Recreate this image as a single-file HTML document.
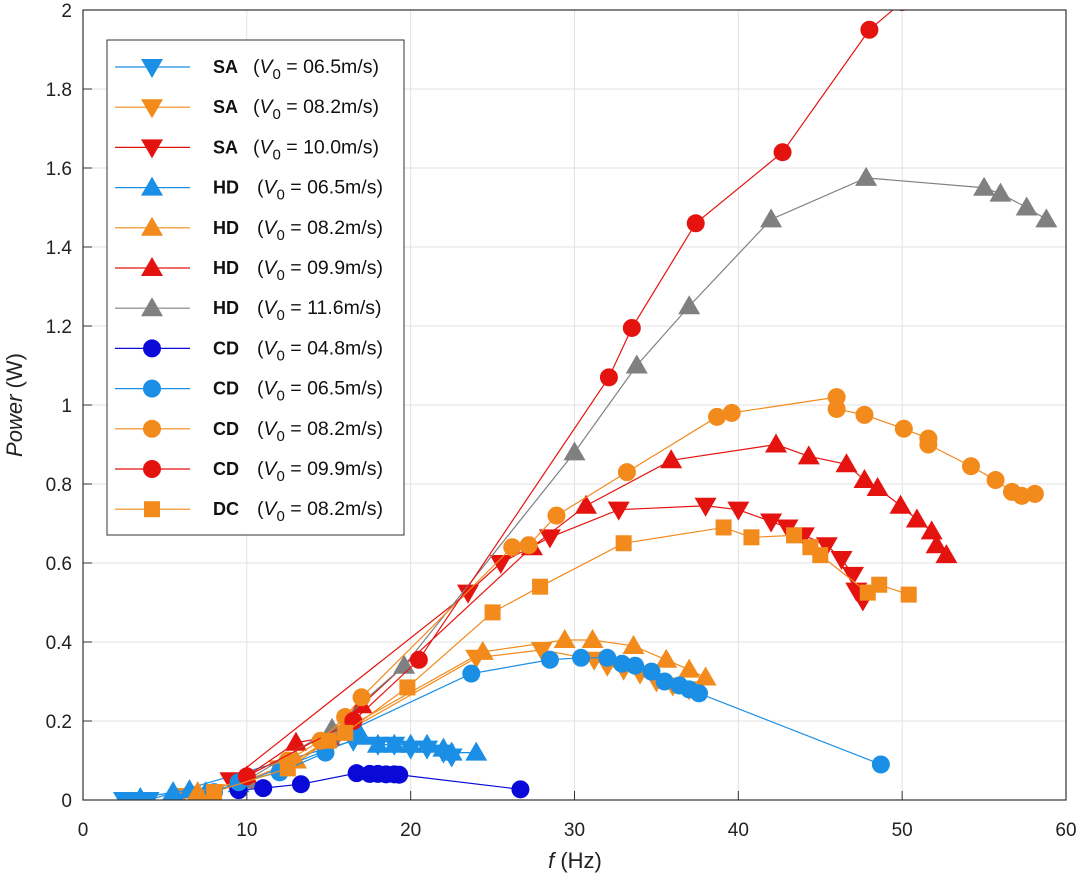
<!DOCTYPE html>
<html><head><meta charset="utf-8"><style>
body{margin:0;background:#fff;font-family:"Liberation Sans",Arial,sans-serif}
svg text{font-family:"Liberation Sans",Arial,sans-serif}
</style></head><body>
<svg id="chart" width="1080" height="878" viewBox="0 0 1080 878" xmlns="http://www.w3.org/2000/svg">
<g id="grid"></g>
<g id="series"></g>
<rect x="83" y="10" width="983" height="790" fill="none" stroke="#333" stroke-width="1.2"/>
<g id="ticks"></g>
<g id="legend"></g>
<text transform="translate(22,405) rotate(-90)" text-anchor="middle" font-size="22" fill="#222"><tspan font-style="italic">Power</tspan> (W)</text>
<text x="575" y="868" text-anchor="middle" font-size="22" fill="#222"><tspan font-style="italic">f</tspan> (Hz)</text>
</svg>
<script>
const xTicks=[0,10,20,30,40,50,60];
const yTicks=[0,0.2,0.4,0.6,0.8,1,1.2,1.4,1.6,1.8,2];
const yTickLabels=["0","0.2","0.4","0.6","0.8","1","1.2","1.4","1.6","1.8","2"];
const seriesNames=["SA","SA","SA","HD","HD","HD","HD","CD","CD","CD","CD","DC"];
const seriesSpeeds=["06.5","08.2","10.0","06.5","08.2","09.9","11.6","04.8","06.5","08.2","09.9","08.2"];
const seriesMarkers=["down","down","down","up","up","up","up","circle","circle","circle","circle","square"];
const seriesColors=["#1b8fe6","#f28a1c","#e5130f","#1b8fe6","#f28a1c","#e5130f","#808080","#0a0ad8","#1b8fe6","#f28a1c","#e5130f","#f28a1c"];
const saX65=[2.5,3,3.5,4,16.5,18,19,20,21,22,22.5];
const saY65=[0.0,-0.005,0.0,0.0,0.15,0.14,0.14,0.13,0.13,0.12,0.11];
const saX82=[6,8,12,15.5,24,28,31.2,32,33,34,35,36,37];
const saY82=[0.01,0.02,0.08,0.16,0.36,0.38,0.355,0.34,0.33,0.32,0.3,0.29,0.28];
const saX10=[9,23.5,25.5,28.5,32.7,38,40,42,43,44,45.4,46.3,47,47.2,47.6];
const saY10=[0.05,0.525,0.6,0.665,0.735,0.745,0.735,0.705,0.69,0.67,0.645,0.61,0.57,0.53,0.505];
const hdX65=[3.5,5.5,6.5,7.5,9.5,17,18,19,20,21,22,22.5,24];
const hdY65=[0.005,0.02,0.025,0.02,0.04,0.16,0.14,0.14,0.14,0.14,0.13,0.12,0.12];
const hdX82=[7,10,13,16,24.4,29.4,31.1,33.6,35.6,37,38];
const hdY82=[0.02,0.05,0.1,0.18,0.375,0.405,0.405,0.39,0.355,0.33,0.31];
const hdX99=[10,13,15,17,27.4,30.7,35.9,42.3,44.3,46.6,47.7,48.5,49.9,50.9,51.8,52.1,52.7];
const hdY99=[0.06,0.145,0.16,0.24,0.64,0.745,0.86,0.9,0.87,0.85,0.81,0.79,0.745,0.71,0.68,0.645,0.62];
const hdX116=[10,15.2,19.6,30,33.8,37,42,47.8,55,56,57.6,58.8];
const hdY116=[0.05,0.18,0.34,0.88,1.1,1.25,1.47,1.575,1.55,1.535,1.5,1.47];
const cdX48=[9.5,11,13.3,16.7,17.5,18,18.5,19,19.3,26.7];
const cdY48=[0.025,0.03,0.04,0.068,0.066,0.066,0.065,0.065,0.064,0.027];
const cdX65=[8,9.5,12,14.8,16.5,23.7,28.5,30.4,32,32.9,33.7,34.7,35.5,36.4,37,37.6,48.7];
const cdY65=[0.02,0.045,0.07,0.12,0.18,0.32,0.355,0.36,0.36,0.345,0.34,0.325,0.3,0.29,0.28,0.27,0.09];
const cdX82=[12.5,14.5,16,17,26.2,27.2,28.9,33.2,38.7,39.6,46,46,47.7,50.1,51.6,51.6,54.2,55.7,56.7,57.3,58.1];
const cdY82=[0.1,0.15,0.21,0.26,0.64,0.645,0.72,0.83,0.97,0.98,1.02,0.99,0.975,0.94,0.915,0.9,0.845,0.81,0.78,0.77,0.775];
const cdX99=[10,16.5,20.5,32.1,33.5,37.4,42.7,48,50];
const cdY99=[0.06,0.2,0.355,1.07,1.195,1.46,1.64,1.95,2.02];
const dcX82=[8,12.5,15,16,19.8,25,27.9,33,39.1,40.8,43.4,44.4,45,47.9,48.6,50.4];
const dcY82=[0.02,0.08,0.15,0.17,0.285,0.475,0.54,0.65,0.69,0.665,0.67,0.64,0.62,0.525,0.545,0.52];
const allX=[saX65,saX82,saX10,hdX65,hdX82,hdX99,hdX116,cdX48,cdX65,cdX82,cdX99,dcX82];
const allY=[saY65,saY82,saY10,hdY65,hdY82,hdY99,hdY116,cdY48,cdY65,cdY82,cdY99,dcY82];

const NS="http://www.w3.org/2000/svg";
const L=83,R=1066,T=10,B=800,XMAX=60,YMAX=2;
function sx(v){return L+v/XMAX*(R-L);}
function sy(v){return B-v/YMAX*(B-T);}
function mk(tag,attrs,parent){const e=document.createElementNS(NS,tag);for(const k in attrs)e.setAttribute(k,attrs[k]);parent.appendChild(e);return e;}
function marker(type,x,y,color,parent,name){
  let e;
  if(type==="circle"){e=mk("circle",{cx:x,cy:y,r:9,fill:color},parent);}
  else if(type==="square"){e=mk("rect",{x:x-8,y:y-8,width:16,height:16,fill:color},parent);}
  else if(type==="up"){e=mk("polygon",{points:`${x},${y-11} ${x-11},${y+8} ${x+11},${y+8}`,fill:color},parent);}
  else {e=mk("polygon",{points:`${x},${y+11} ${x-11},${y-8} ${x+11},${y-8}`,fill:color},parent);}
  
  
  return e;
}
const grid=document.getElementById("grid"),ticks=document.getElementById("ticks");
xTicks.forEach(t=>{
  const g=mk("line",{x1:sx(t),x2:sx(t),y1:T,y2:B,stroke:"#e2e2e2","stroke-width":1},grid);
  
  
  const tk=mk("line",{x1:sx(t),x2:sx(t),y1:B,y2:B-9,stroke:"#333"},ticks);
  
  
  const tx=mk("text",{x:sx(t),y:836,"text-anchor":"middle","font-size":19,fill:"#222"},ticks);
  tx.textContent=t;
  
  
});
yTicks.forEach((t,i)=>{
  const g=mk("line",{x1:L,x2:R,y1:sy(t),y2:sy(t),stroke:"#e2e2e2","stroke-width":1},grid);
  
  
  const tk=mk("line",{x1:L,x2:L+9,y1:sy(t),y2:sy(t),stroke:"#333"},ticks);
  
  
  const tx=mk("text",{x:72,y:sy(t)+7,"text-anchor":"end","font-size":19,fill:"#222"},ticks);
  tx.textContent=yTickLabels[i];
  
  
});
const layer=document.getElementById("series");
const clip=mk("clipPath",{id:"pc"},layer);mk("rect",{x:L,y:T,width:R-L,height:B-T},clip);
const clipped=mk("g",{"clip-path":"url(#pc)"},layer);
allX.forEach((xs,i)=>{
  const g=mk("g",{},clipped);
  
  
  const pts=xs.map((x,j)=>sx(x)+","+sy(allY[i][j])).join(" ");
  const pl=mk("polyline",{points:pts,fill:"none",stroke:seriesColors[i],"stroke-width":1.2},g);
  
  
  xs.forEach((x,j)=>marker(seriesMarkers[i],sx(x),sy(allY[i][j]),seriesColors[i],g,'data-point'));
});
const lg=document.getElementById("legend");
const box=mk("rect",{x:107,y:40,width:297,height:495,fill:"#fff",stroke:"#333","stroke-width":1},lg);


seriesNames.forEach((n,i)=>{
  const y=67+i*40.2;
  const g=mk("g",{},lg);
  
  
  mk("line",{x1:115,x2:190,y1:y,y2:y,stroke:seriesColors[i],"stroke-width":1.2},g);
  marker(seriesMarkers[i],152,y,seriesColors[i],g,'legend-marker');
  const t1=mk("text",{x:213,y:y+6,"font-size":18,"font-weight":"bold",fill:"#111"},g);
  t1.textContent=n;
  const t2=mk("text",{x:n==="SA"?253:257,y:y+6,"font-size":19.5,fill:"#111"},g);
  t2.innerHTML='(<tspan font-style="italic">V</tspan><tspan font-size="15" dy="6">0</tspan><tspan dy="-6"> = '+seriesSpeeds[i]+'m/s)</tspan>';
});
</script>
</body></html>
